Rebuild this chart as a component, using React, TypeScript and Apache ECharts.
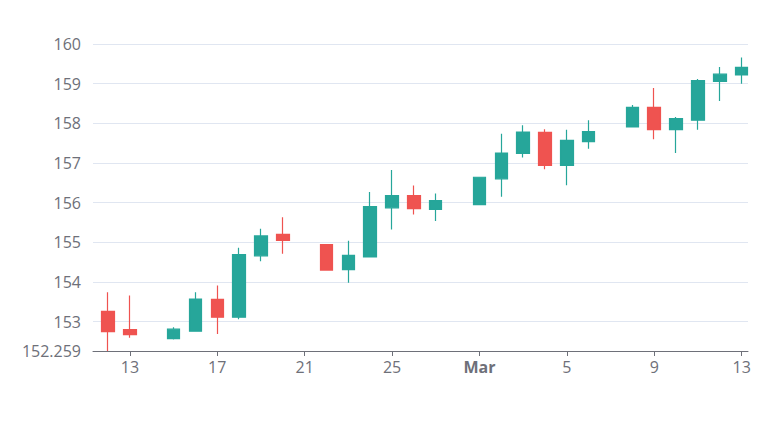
import React, { useEffect, useRef } from "react";
import * as echarts from "echarts";

// Daily OHLC quotes
const dates = [
  "2025-02-12", "2025-02-13", "2025-02-15", "2025-02-16", "2025-02-17",
  "2025-02-18", "2025-02-19", "2025-02-20", "2025-02-22", "2025-02-23",
  "2025-02-24", "2025-02-25", "2025-02-26", "2025-02-27", "2025-03-01",
  "2025-03-02", "2025-03-03", "2025-03-04", "2025-03-05", "2025-03-06",
  "2025-03-08", "2025-03-09", "2025-03-10", "2025-03-11", "2025-03-12",
  "2025-03-13",
];
const openPrices = [
  153.26, 152.8, 152.57, 152.76, 153.56, 153.11, 154.66, 155.2, 154.94, 154.31,
  154.63, 155.87, 156.18, 155.83, 155.95, 156.6, 157.24, 157.77, 156.94, 157.54,
  157.91, 158.4, 157.84, 158.08, 159.06, 159.22,
];
const closePrices = [
  152.75, 152.67, 152.81, 153.57, 153.11, 154.69, 155.16, 155.05, 154.3, 154.67,
  155.9, 156.18, 155.85, 156.05, 156.64, 157.25, 157.78, 156.94, 157.57, 157.79,
  158.4, 157.84, 158.12, 159.08, 159.24, 159.41,
];
const lowPrices = [
  152.259, 152.59, 152.55, 152.75, 152.69, 153.06, 154.52, 154.71, 154.29, 153.98,
  154.62, 155.32, 155.7, 155.54, 155.94, 156.15, 157.14, 156.84, 156.44, 157.36,
  157.9, 157.6, 157.25, 157.84, 158.56, 159.0,
];
const highPrices = [
  153.74, 153.66, 152.86, 153.74, 153.91, 154.86, 155.34, 155.63, 154.95, 155.04,
  156.27, 156.82, 156.43, 156.23, 156.65, 157.74, 157.95, 157.85, 157.84, 158.08,
  158.46, 158.89, 158.16, 159.12, 159.42, 159.66,
];

const UP = "#26a69a";
const DOWN = "#ef5350";
const LABEL = "#6E7079";
const FONT = "'Open Sans', 'Noto Sans', sans-serif";

function toTime(d: string): number {
  const [y, m, day] = d.split("-").map(Number);
  return new Date(y, m - 1, day).getTime();
}

const HOUR = 3600 * 1000;

export default function App() {
  const ref = useRef<HTMLDivElement>(null);

  useEffect(() => {
    if (!ref.current) return;
    const chart = echarts.init(ref.current, undefined, { renderer: "svg" });

    const rows = dates.map((d, i) => [
      toTime(d),
      openPrices[i],
      closePrices[i],
      lowPrices[i],
      highPrices[i],
    ]);
    const first = toTime(dates[0]);
    const last = toTime(dates[dates.length - 1]);

    chart.setOption({
      animation: false,
      grid: { left: 93, right: 22, top: 44, bottom: 93 },
      xAxis: {
        type: "time",
        min: first - 16.5 * HOUR,
        max: last + 7 * HOUR,
        splitNumber: 7,
        axisLine: { lineStyle: { color: LABEL } },
        axisTick: { show: true, lineStyle: { color: LABEL } },
        splitLine: { show: false },
        axisLabel: {
          color: LABEL,
          fontSize: 16,
          fontFamily: FONT,
          margin: 8,
        },
      },
      yAxis: {
        type: "value",
        min: "dataMin",
        max: 160,
        splitNumber: 8,
        axisLine: { show: false },
        axisTick: { show: false },
        splitLine: { lineStyle: { color: "#E0E6F1" } },
        axisLabel: {
          color: LABEL,
          fontSize: 16,
          fontFamily: FONT,
          margin: 12,
        },
      },
      series: [
        {
          type: "candlestick",
          data: rows,
          encode: { x: 0, y: [1, 2, 3, 4] },
          barWidth: 13,
          itemStyle: {
            color: UP,
            color0: DOWN,
            borderColor: UP,
            borderColor0: DOWN,
            borderWidth: 1.2,
          },
        },
      ],
    });

    return () => chart.dispose();
  }, []);

  return (
    <div
      ref={ref}
      style={{ position: "absolute", left: 0, top: 0, width: 770, height: 444 }}
    />
  );
}
